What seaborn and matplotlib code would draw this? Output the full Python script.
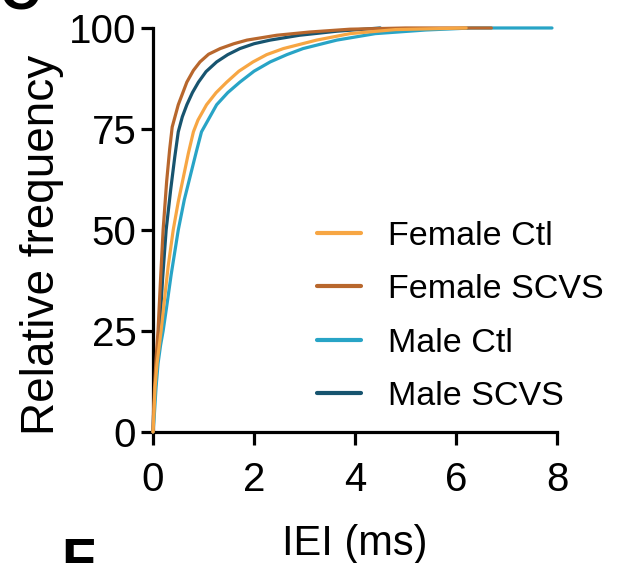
import pandas as pd
import numpy as np
import seaborn as sns
import matplotlib.pyplot as plt

# cumulative IEI curves (x in ms, y in %)
groups = ["Female Ctl", "Female SCVS", "Male Ctl", "Male SCVS"]

fem_ctl_x = [0, 0.02, 0.04, 0.08, 0.12, 0.16, 0.22, 0.3, 0.4, 0.5, 0.6, 0.7, 0.8, 0.89, 1.06, 1.25,
             1.46, 1.7, 1.98, 2.25, 2.58, 3.24, 3.9, 4.8, 6.2]
fem_ctl_y = [0, 5, 11, 17, 21, 25, 32, 41, 50, 57, 63, 69, 74.3, 77.2, 81, 84,
             86.6, 89.3, 91.6, 93.4, 94.9, 97, 98.6, 99.6, 100]

fem_scvs_x = [0, 0.01, 0.03, 0.06, 0.1, 0.15, 0.2, 0.27, 0.33, 0.38, 0.5, 0.67, 0.8, 0.93, 1.1,
              1.33, 1.6, 1.86, 2.45, 3.1, 3.9, 5.0, 6.7]
fem_scvs_y = [0, 5, 11, 18, 25.2, 38, 50, 62, 70, 75.5, 81, 86.6, 89.5, 91.6, 93.5,
              94.9, 96.1, 97, 98.2, 99, 99.7, 100, 100]

male_ctl_x = [0, 0.02, 0.06, 0.1, 0.15, 0.2, 0.27, 0.36, 0.5, 0.62, 0.75, 0.86, 0.96, 1.09, 1.26,
              1.48, 1.72, 2.0, 2.32, 2.65, 2.97, 3.64, 4.4, 5.4, 6.3, 7.9]
male_ctl_y = [0, 3, 11, 17, 21.5, 25, 31, 39, 50, 57.5, 64, 69.5, 74.3, 77.2, 81,
              84, 86.6, 89.3, 91.6, 93.4, 94.9, 97, 98.6, 99.5, 100, 100]

male_scvs_x = [0, 0.01, 0.04, 0.08, 0.13, 0.19, 0.26, 0.35, 0.43, 0.5, 0.58, 0.67, 0.78, 0.9, 1.05,
               1.26, 1.48, 1.72, 2.0, 2.32, 2.9, 3.64, 4.5]
male_scvs_y = [0, 4, 10, 17, 25, 38, 50, 60, 68, 74.3, 78, 81, 84, 86.6, 89.2,
               91.6, 93.4, 94.9, 96.1, 97, 98.2, 99.2, 100]

xticks = [0, 2, 4, 6, 8]
yticks = [0, 25, 50, 75, 100]

colors = {"Female Ctl": "#F7A643", "Female SCVS": "#B8672D",
          "Male Ctl": "#28A4C6", "Male SCVS": "#17546F"}

parts = []
for g, xs, ys in zip(groups, [fem_ctl_x, fem_scvs_x, male_ctl_x, male_scvs_x],
                     [fem_ctl_y, fem_scvs_y, male_ctl_y, male_scvs_y]):
    parts.append(pd.DataFrame({"IEI": xs, "freq": ys, "group": g}))
df = pd.concat(parts, ignore_index=True)

sns.set_style("ticks")
plt.rcParams["font.family"] = ["Liberation Sans", "DejaVu Sans"]
plt.rcParams.update({"text.color": "black", "axes.labelcolor": "black",
                     "xtick.color": "black", "ytick.color": "black",
                     "axes.edgecolor": "black"})

fig = plt.figure(figsize=(6.21, 5.63), dpi=100)
ax = fig.add_axes([0.2464, 0.2327, 0.6506, 0.7176])

sns.lineplot(data=df, x="IEI", y="freq", hue="group", hue_order=groups,
             palette=colors, estimator=None, linewidth=2.3, ax=ax, clip_on=False)

# first data set sits in front (as in the original)
for i, line in enumerate(ax.lines[:4]):
    line.set_zorder(10 - i)

ax.set_xlim(0, 8)
ax.set_ylim(0, 100)
ax.set_xticks(xticks)
ax.set_yticks(yticks)
sns.despine(ax=ax)
for s in ["left", "bottom"]:
    ax.spines[s].set_linewidth(2.3)
    ax.spines[s].set_color("black")
ax.tick_params(axis="both", length=9, width=2.3, labelsize=29, color="black", labelcolor="black")
ax.tick_params(axis="x", pad=12)
ax.tick_params(axis="y", pad=3)
ax.set_xlabel("IEI (ms)", fontsize=30, labelpad=18)
ax.set_ylabel("Relative frequency", fontsize=33)
ax.yaxis.set_label_coords(-0.22, 0.463)

leg = ax.legend(loc="upper left", bbox_to_anchor=(0.405, 0.523), frameon=False,
                fontsize=24.5, handlelength=1.3, handletextpad=0.8,
                labelspacing=0.66, borderpad=0, borderaxespad=0)
for line in leg.get_lines():
    line.set_linewidth(3)

# cut-off panel letters at the edges
fig.text(0.0, 1.008, "C", fontsize=40, fontweight="bold", ha="left", va="center")
fig.text(0.098, 0.0, "F", fontsize=40, fontweight="bold", ha="left", va="center")

fig.savefig("out.png", dpi=100)
